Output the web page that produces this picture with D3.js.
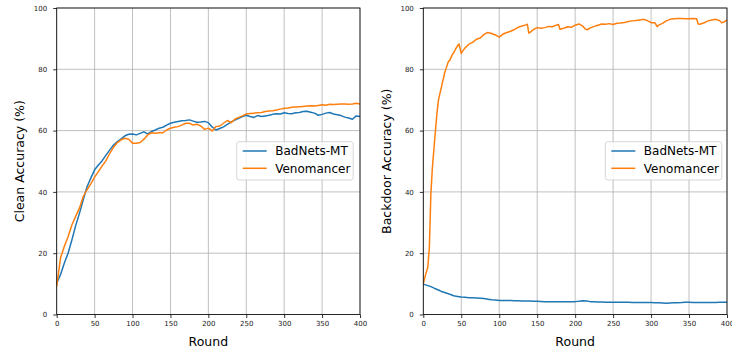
<!DOCTYPE html>
<html>
<head>
<meta charset="utf-8">
<script src="https://cdn.jsdelivr.net/npm/d3@7"></script>
<style>
body { margin: 0; background: #fff; }
#chart { width: 732px; height: 352px; }
text { font-family: "DejaVu Sans", sans-serif; }
</style>
</head>
<body>
<div id="chart"></div>
<script>
var seriesNames = ['BadNets-MT', 'Venomancer'];
var colorT = ['#1f77b4', '#ff7f0e'];
var xTicks = [0, 50, 100, 150, 200, 250, 300, 350, 400];
var yTicks = [0, 20, 40, 60, 80, 100];

// rounds for the sampled curves (every 5 rounds)
var rounds = d3.range(0, 401, 5);

// left panel: clean accuracy
var cleanBadnets = [10.2, 13, 16.7, 20, 24.3, 29, 33, 37.4, 41.7, 44.5, 47.2, 48.8, 50.2, 52, 53.7, 55.3, 56.4, 57.3, 58.3, 58.8,
    58.9, 58.6, 59.1, 59.6, 58.9, 59.7, 60.2, 60.8, 61.1, 61.8, 62.4, 62.7, 63, 63.2, 63.3, 63.5, 63.1, 62.7, 62.8, 63,
    62.6, 61.2, 60.2, 60.7, 61.2, 62, 62.8, 63.4, 64, 64.6, 65, 64.6, 64.3, 64.9, 64.6, 64.8, 65, 65.3, 65.5, 65.4,
    65.8, 65.6, 65.5, 65.8, 65.9, 66.2, 66.3, 66, 65.7, 65, 65.3, 65.7, 65.9, 65.4, 65.2, 64.9, 64.4, 64.1, 63.7, 64.8, 64.6];
var cleanVeno = [9.1, 18.4, 22.2, 25.4, 29.2, 32, 34.7, 38.5, 40.7, 42.6, 44.8, 46.6, 48.5, 50.2, 52.6, 54.6, 56.1, 57, 57.5, 57.2,
    55.9, 55.9, 56.1, 57.2, 58.6, 59.3, 59.1, 59.3, 59.3, 60.2, 60.8, 61.1, 61.3, 61.8, 62.4, 62.4, 61.8, 62.1, 61.5, 60.4,
    60.8, 59.9, 61.3, 61.5, 62.4, 63.3, 62.6, 63.7, 64.3, 64.8, 65.4, 65.6, 65.7, 65.8, 65.9, 66.2, 66.4, 66.5, 66.7, 67,
    67.3, 67.4, 67.6, 67.7, 67.8, 67.9, 68, 68.1, 68, 68.2, 68.4, 68.3, 68.6, 68.5, 68.6, 68.7, 68.7, 68.6, 68.7, 68.9, 68.7];

// right panel: backdoor accuracy
var bdBadnets = [9.9, 9.5, 9.1, 8.5, 8, 7.4, 7, 6.6, 6.1, 5.9, 5.7, 5.6, 5.5, 5.45, 5.4, 5.3, 5.2, 5, 4.8, 4.7,
    4.6, 4.6, 4.6, 4.55, 4.5, 4.45, 4.4, 4.4, 4.4, 4.35, 4.3, 4.25, 4.2, 4.2, 4.2, 4.15, 4.2, 4.2, 4.2, 4.2,
    4.2, 4.3, 4.5, 4.4, 4.2, 4.15, 4.1, 4.05, 4, 4, 4, 4, 4, 4, 4, 3.95, 3.9, 3.9, 3.9, 3.9,
    3.9, 3.85, 3.8, 3.75, 3.7, 3.75, 3.8, 3.85, 3.9, 4, 4, 3.9, 3.9, 3.9, 3.9, 3.95, 3.9, 3.95, 4, 4, 4];
var bdVenoRounds = [0, 3, 6, 8, 10, 12, 15, 18, 20, 22, 25, 28, 30, 33, 35, 38, 40, 43, 45, 47,
    50, 52, 55, 60, 65, 70, 75, 80, 85, 90, 95, 100, 105, 110, 115, 120, 125, 130, 135, 137,
    139, 142, 145, 150, 155, 160, 165, 170, 175, 178, 180, 185, 190, 195, 200, 205, 210, 213, 216, 220,
    225, 230, 235, 240, 245, 250, 255, 260, 265, 270, 275, 280, 285, 290, 295, 300, 305, 308, 310, 315,
    320, 325, 330, 335, 340, 345, 350, 355, 360, 362, 364, 370, 375, 380, 385, 390, 393, 396, 400];
var bdVeno = [10, 13, 15.5, 22, 39.6, 48, 57, 65.7, 70, 72.2, 75.4, 78.7, 80.3, 82.5, 83, 84.7, 85.4, 86.8, 87.6, 88.3,
    85.2, 86, 87, 88.2, 88.8, 89.8, 90.2, 91.4, 92, 91.7, 91.2, 90.5, 91.5, 92, 92.4, 93, 93.7, 94.1, 94.5, 94.7,
    91.8, 92.3, 93, 93.6, 93.4, 93.6, 94, 93.9, 94.4, 94.6, 93.1, 93.4, 93.9, 93.7, 94.4, 94.8, 94.1, 93.2, 92.9, 93.5,
    94, 94.4, 94.8, 94.7, 94.9, 94.6, 95, 95.1, 95.3, 95.6, 95.8, 95.9, 96.1, 96.3, 95.9, 95.2, 95.2, 93.9, 94.4, 95,
    95.8, 96.3, 96.5, 96.6, 96.6, 96.5, 96.5, 96.6, 96.5, 94.8, 94.7, 95.2, 95.8, 96.1, 96.3, 95.9, 95.2, 95.4, 96.1];

var _svg = d3.select('#chart').append('svg')
    .attr('width', 732)
    .attr('height', 352);

drawPanel({
    left: 56.7, right: 360, top: 8, bottom: 314.5,
    ylabel: 'Clean Accuracy (%)', ylabelX: 24,
    legendX: 236.7, id: 'p1',
    lines: [
        {x: rounds, y: cleanBadnets, c: 0},
        {x: rounds, y: cleanVeno, c: 1}
    ]
});
drawPanel({
    left: 423.3, right: 727, top: 8, bottom: 314.5,
    ylabel: 'Backdoor Accuracy (%)', ylabelX: 391,
    legendX: 605.3, id: 'p2',
    lines: [
        {x: rounds, y: bdBadnets, c: 0},
        {x: bdVenoRounds, y: bdVeno, c: 1}
    ]
});

function drawPanel(p) {
    var xScale = d3.scaleLinear().domain([0, 400]).range([p.left, p.right]);
    var yScale = d3.scaleLinear().domain([0, 100]).range([p.bottom, p.top]);
    var g = _svg.append('g');

    //网格线
    g.selectAll('.vgrid').data(xTicks).enter().append('line')
        .attr('x1', function (d) { return xScale(d); })
        .attr('x2', function (d) { return xScale(d); })
        .attr('y1', p.top).attr('y2', p.bottom)
        .attr('stroke', '#b0b0b0').attr('stroke-width', 0.8);
    g.selectAll('.hgrid').data(yTicks).enter().append('line')
        .attr('y1', function (d) { return yScale(d); })
        .attr('y2', function (d) { return yScale(d); })
        .attr('x1', p.left).attr('x2', p.right)
        .attr('stroke', '#b0b0b0').attr('stroke-width', 0.8);

    //曲线
    _svg.append('clipPath').attr('id', 'clip' + p.id)
        .append('rect')
        .attr('x', p.left).attr('y', p.top)
        .attr('width', p.right - p.left).attr('height', p.bottom - p.top);
    p.lines.forEach(function (s) {
        var pts = s.x.map(function (r, i) { return [r, s.y[i]]; });
        g.append('path')
            .datum(pts)
            .attr('clip-path', 'url(#clip' + p.id + ')')
            .attr('fill', 'none')
            .attr('stroke', colorT[s.c])
            .attr('stroke-width', 1.5)
            .attr('stroke-linejoin', 'round')
            .attr('d', d3.line()
                .x(function (d) { return xScale(d[0]); })
                .y(function (d) { return yScale(d[1]); }));
    });

    //坐标轴
    var xAxis = d3.axisBottom(xScale).tickValues(xTicks).tickSize(3.5).tickPadding(3);
    var yAxis = d3.axisLeft(yScale).tickValues(yTicks).tickSize(3.5).tickPadding(6);
    var gx = g.append('g').attr('transform', 'translate(0,' + p.bottom + ')').call(xAxis);
    var gy = g.append('g').attr('transform', 'translate(' + p.left + ',0)').call(yAxis);
    [gx, gy].forEach(function (a) {
        a.select('.domain').remove();
        a.selectAll('line').attr('stroke', '#000').attr('stroke-width', 0.8);
        a.selectAll('text').attr('fill', '#222').style('font-size', '7px')
            .style('font-family', '"DejaVu Sans", sans-serif');
    });
    g.append('rect')
        .attr('x', p.left).attr('y', p.top)
        .attr('width', p.right - p.left).attr('height', p.bottom - p.top)
        .attr('fill', 'none').attr('stroke', '#000').attr('stroke-width', 0.8);

    //轴标题
    g.append('text')
        .attr('x', (p.left + p.right) / 2).attr('y', 346)
        .attr('text-anchor', 'middle')
        .style('font-size', '12.5px')
        .text('Round');
    g.append('text')
        .attr('transform', 'translate(' + p.ylabelX + ',' + ((p.top + p.bottom) / 2) + ') rotate(-90)')
        .attr('text-anchor', 'middle')
        .style('font-size', '12.5px')
        .text(p.ylabel);

    //图例
    var lg = g.append('g').attr('transform', 'translate(' + p.legendX + ',141.7)');
    lg.append('rect')
        .attr('width', 116.5).attr('height', 38.3)
        .attr('rx', 2.5)
        .attr('fill', '#fff').attr('fill-opacity', 0.8)
        .attr('stroke', '#cccccc').attr('stroke-width', 0.8);
    seriesNames.forEach(function (n, i) {
        var yy = 9.3 + i * 17.3;
        lg.append('line')
            .attr('x1', 6).attr('x2', 30)
            .attr('y1', yy).attr('y2', yy)
            .attr('stroke', colorT[i]).attr('stroke-width', 1.5);
        lg.append('text')
            .attr('x', 38.5).attr('y', yy + 4.3)
            .style('font-size', '12px')
            .attr('fill', '#000')
            .text(n);
    });
}
</script>
</body>
</html>
